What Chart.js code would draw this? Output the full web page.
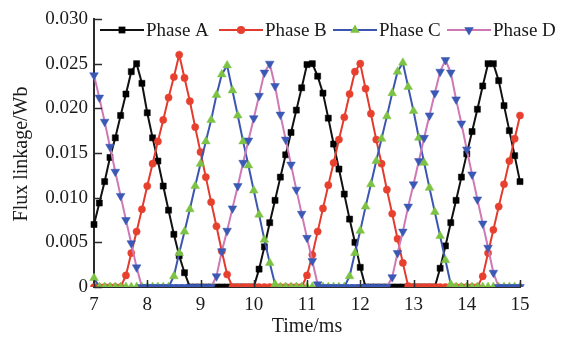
<!DOCTYPE html>
<html>
<head>
<meta charset="utf-8">
<script src="https://cdn.jsdelivr.net/npm/chart.js@4/dist/chart.umd.min.js"></script>
<style>
  html, body { margin: 0; padding: 0; background: #fff; }
  canvas { display: block; }
</style>
</head>
<body>
<canvas id="flux_chart" width="571" height="340"></canvas>
<script>
// Flux linkage of the four phases, sampled every 0.1 ms
const timeMs = [
    7.0, 7.1, 7.2, 7.3, 7.4, 7.5, 7.6, 7.7, 7.8, 7.9,
    8.0, 8.1, 8.2, 8.3, 8.4, 8.5, 8.6, 8.7, 8.8, 8.9,
    9.0, 9.1, 9.2, 9.3, 9.4, 9.5, 9.6, 9.7, 9.8, 9.9,
    10.0, 10.1, 10.2, 10.3, 10.4, 10.5, 10.6, 10.7, 10.8, 10.9,
    11.0, 11.1, 11.2, 11.3, 11.4, 11.5, 11.6, 11.7, 11.8, 11.9,
    12.0, 12.1, 12.2, 12.3, 12.4, 12.5, 12.6, 12.7, 12.8, 12.9,
    13.0, 13.1, 13.2, 13.3, 13.4, 13.5, 13.6, 13.7, 13.8, 13.9,
    14.0, 14.1, 14.2, 14.3, 14.4, 14.5, 14.6, 14.7, 14.8, 14.9,
    15.0
];

const phaseA = [
    0.0070, 0.0094, 0.0118, 0.0145, 0.0167, 0.0192, 0.0216, 0.0241, 0.0250, 0.0228,
    0.0195, 0.0167, 0.0141, 0.0113, 0.0086, 0.0059, 0.0035, 0.0016, 0, 0,
    0, 0, 0, 0, 0, 0, 0, 0, 0, 0,
    0, 0.0020, 0.0045, 0.0072, 0.0097, 0.0123, 0.0148, 0.0173, 0.0198, 0.0223,
    0.0249, 0.0250, 0.0236, 0.0217, 0.0189, 0.0160, 0.0132, 0.0104, 0.0076, 0.0050,
    0.0022, 0, 0, 0, 0, 0, 0, 0, 0, 0,
    0, 0, 0, 0, 0, 0.0021, 0.0046, 0.0072, 0.0097, 0.0123,
    0.0149, 0.0174, 0.0199, 0.0225, 0.0250, 0.0250, 0.0231, 0.0203, 0.0175, 0.0147,
    0.0118
];

const phaseB = [
    0, 0, 0, 0, 0, 0, 0.0013, 0.0038, 0.0062, 0.0087,
    0.0113, 0.0138, 0.0163, 0.0187, 0.0212, 0.0235, 0.0260, 0.0234, 0.0208, 0.0179,
    0.0151, 0.0123, 0.0095, 0.0068, 0.0040, 0.0014, 0, 0, 0, 0,
    0, 0, 0, 0, 0, 0, 0, 0, 0, 0,
    0.0013, 0.0036, 0.0062, 0.0088, 0.0114, 0.0139, 0.0165, 0.0190, 0.0216, 0.0241,
    0.0250, 0.0222, 0.0194, 0.0165, 0.0138, 0.0109, 0.0082, 0.0054, 0.0027, 0.0001,
    0, 0, 0, 0, 0, 0, 0, 0, 0, 0,
    0, 0, 0, 0.0012, 0.0038, 0.0064, 0.0090, 0.0115, 0.0141, 0.0166,
    0.0192
];

const phaseC = [
    0.0010, 0, 0, 0, 0, 0, 0, 0, 0, 0,
    0, 0, 0, 0, 0, 0.0012, 0.0038, 0.0062, 0.0087, 0.0113,
    0.0138, 0.0163, 0.0187, 0.0215, 0.0238, 0.0248, 0.0220, 0.0192, 0.0163, 0.0136,
    0.0108, 0.0081, 0.0053, 0.0027, 0.0003, 0, 0, 0, 0, 0,
    0, 0, 0, 0, 0, 0, 0, 0, 0.0012, 0.0038,
    0.0063, 0.0090, 0.0115, 0.0141, 0.0166, 0.0191, 0.0217, 0.0241, 0.0251, 0.0224,
    0.0197, 0.0167, 0.0139, 0.0111, 0.0084, 0.0057, 0.0030, 0.0003, 0, 0,
    0, 0, 0, 0, 0, 0, 0, 0, 0, 0,
    0
];

const phaseD = [
    0.0237, 0.0212, 0.0185, 0.0157, 0.0129, 0.0102, 0.0075, 0.0049, 0.0022, 0,
    0, 0, 0, 0, 0, 0, 0, 0, 0, 0,
    0, 0, 0, 0.0012, 0.0040, 0.0063, 0.0088, 0.0113, 0.0139, 0.0164,
    0.0189, 0.0214, 0.0240, 0.0250, 0.0225, 0.0193, 0.0165, 0.0137, 0.0109, 0.0082,
    0.0055, 0.0029, 0.0003, 0, 0, 0, 0, 0, 0, 0,
    0, 0, 0, 0, 0, 0, 0.0011, 0.0038, 0.0062, 0.0090,
    0.0115, 0.0141, 0.0167, 0.0192, 0.0217, 0.0241, 0.0254, 0.0240, 0.0210, 0.0183,
    0.0154, 0.0126, 0.0098, 0.0071, 0.0044, 0.0016, 0, 0, 0, 0,
    0
];

const seriesNames = ["Phase A", "Phase B", "Phase C", "Phase D"];
const xTicks = [7, 8, 9, 10, 11, 12, 13, 14, 15];
const yTicks = [0, 0.005, 0.010, 0.015, 0.020, 0.025, 0.030];

const serif = "'Liberation Serif', 'Times New Roman', serif";
const textColor = "#1a1a1a";
const axisColor = "#2b2b2b";

function points(values) {
    return values.map((v, i) => ({ x: timeMs[i], y: v }));
}

function drawMarker(ctx, style, x, y, r, fill) {
    ctx.save();
    ctx.fillStyle = fill;
    ctx.beginPath();
    if (style === "rect") {
        const s = r * Math.SQRT1_2;
        ctx.rect(x - s, y - s, 2 * s, 2 * s);
    } else if (style === "circle") {
        ctx.arc(x, y, r, 0, Math.PI * 2);
    } else {
        const dir = style === "triangleDown" ? -1 : 1;
        ctx.moveTo(x, y - dir * r);
        ctx.lineTo(x + r * 0.866, y + dir * r * 0.5);
        ctx.lineTo(x - r * 0.866, y + dir * r * 0.5);
        ctx.closePath();
    }
    ctx.fill();
    ctx.restore();
}

// legend, inward ticks and axis titles like the original figure
const figureDecor = {
    id: "figureDecor",
    afterDraw(chart) {
        const ctx = chart.ctx;
        const area = chart.chartArea;
        const xs = chart.scales.x;
        const ys = chart.scales.y;

        ctx.save();
        ctx.strokeStyle = axisColor;
        ctx.lineWidth = 1.5;
        ctx.beginPath();
        yTicks.forEach(v => {
            const py = Math.round(ys.getPixelForValue(v)) + 0.5;
            ctx.moveTo(area.left, py);
            ctx.lineTo(area.left + 8, py);
        });
        xTicks.forEach(v => {
            const px = Math.round(xs.getPixelForValue(v)) + 0.5;
            ctx.moveTo(px, area.bottom);
            ctx.lineTo(px, area.bottom - 7);
        });
        ctx.stroke();

        ctx.fillStyle = textColor;
        ctx.font = "20px " + serif;
        ctx.textAlign = "center";
        ctx.textBaseline = "middle";
        ctx.fillText("Time/ms", (area.left + area.right) / 2, 327);

        ctx.save();
        ctx.translate(22, (area.top + area.bottom) / 2 + 1);
        ctx.rotate(-Math.PI / 2);
        ctx.font = "20px " + serif;
        ctx.fillText("Flux linkage/Wb", 0, 0);
        ctx.restore();

        const legendX = [100, 219, 333, 447];
        const legendY = 30;
        ctx.font = "19px " + serif;
        ctx.textAlign = "left";
        chart.data.datasets.forEach((ds, i) => {
            const x0 = legendX[i];
            ctx.strokeStyle = ds.borderColor;
            ctx.lineWidth = 2;
            ctx.beginPath();
            ctx.moveTo(x0, legendY);
            ctx.lineTo(x0 + 44, legendY);
            ctx.stroke();
            drawMarker(ctx, ds.markerShape, x0 + 22, legendY, ds.pointRadius + 0.5, ds.pointBackgroundColor);
            ctx.fillStyle = textColor;
            ctx.fillText(ds.label, x0 + 46, legendY + 1);
        });
        ctx.restore();
    }
};

function series(i, values, line, marker, shape, radius, rotation, order) {
    return {
        label: seriesNames[i],
        data: points(values),
        borderColor: line,
        borderWidth: 2,
        backgroundColor: marker,
        pointBackgroundColor: marker,
        pointBorderColor: marker,
        pointBorderWidth: 0.5,
        pointStyle: shape === "triangleDown" ? "triangle" : shape,
        pointRotation: rotation,
        pointRadius: radius,
        markerShape: shape,
        tension: 0,
        order: order,
        clip: { left: 8, right: 8, top: 8, bottom: 0 }
    };
}

const fluxChart = new Chart(document.getElementById("flux_chart"), {
    type: "line",
    data: {
        datasets: [
            series(0, phaseA, "#111111", "#000000", "rect", 4.3, 0, 4),
            series(1, phaseB, "#e23b2e", "#e8402f", "circle", 3.6, 0, 3),
            series(2, phaseC, "#3b55b0", "#7cc243", "triangle", 5, 0, 2),
            series(3, phaseD, "#cf78b6", "#3a58b4", "triangleDown", 5, 180, 1)
        ]
    },
    options: {
        responsive: false,
        animation: false,
        events: [],
        layout: { padding: { top: 19, right: 51, left: 0, bottom: 0 } },
        plugins: {
            legend: { display: false },
            tooltip: { enabled: false }
        },
        scales: {
            x: {
                type: "linear",
                min: 7,
                max: 15,
                afterFit: s => { s.height = 53; },
                afterBuildTicks: s => { s.ticks = xTicks.map(v => ({ value: v })); },
                ticks: { padding: 7, color: textColor, font: { family: serif, size: 19 } },
                grid: { drawOnChartArea: false, drawTicks: false },
                border: { display: true, color: axisColor, width: 2 }
            },
            y: {
                min: 0,
                max: 0.03,
                afterFit: s => { s.width = 94; },
                afterBuildTicks: s => { s.ticks = yTicks.map(v => ({ value: v })); },
                ticks: {
                    padding: 6,
                    color: textColor,
                    font: { family: serif, size: 19 },
                    callback: v => v === 0 ? "0" : v.toFixed(3)
                },
                grid: { drawOnChartArea: false, drawTicks: false },
                border: { display: true, color: axisColor, width: 2 }
            }
        }
    },
    plugins: [figureDecor]
});
</script>
</body>
</html>
